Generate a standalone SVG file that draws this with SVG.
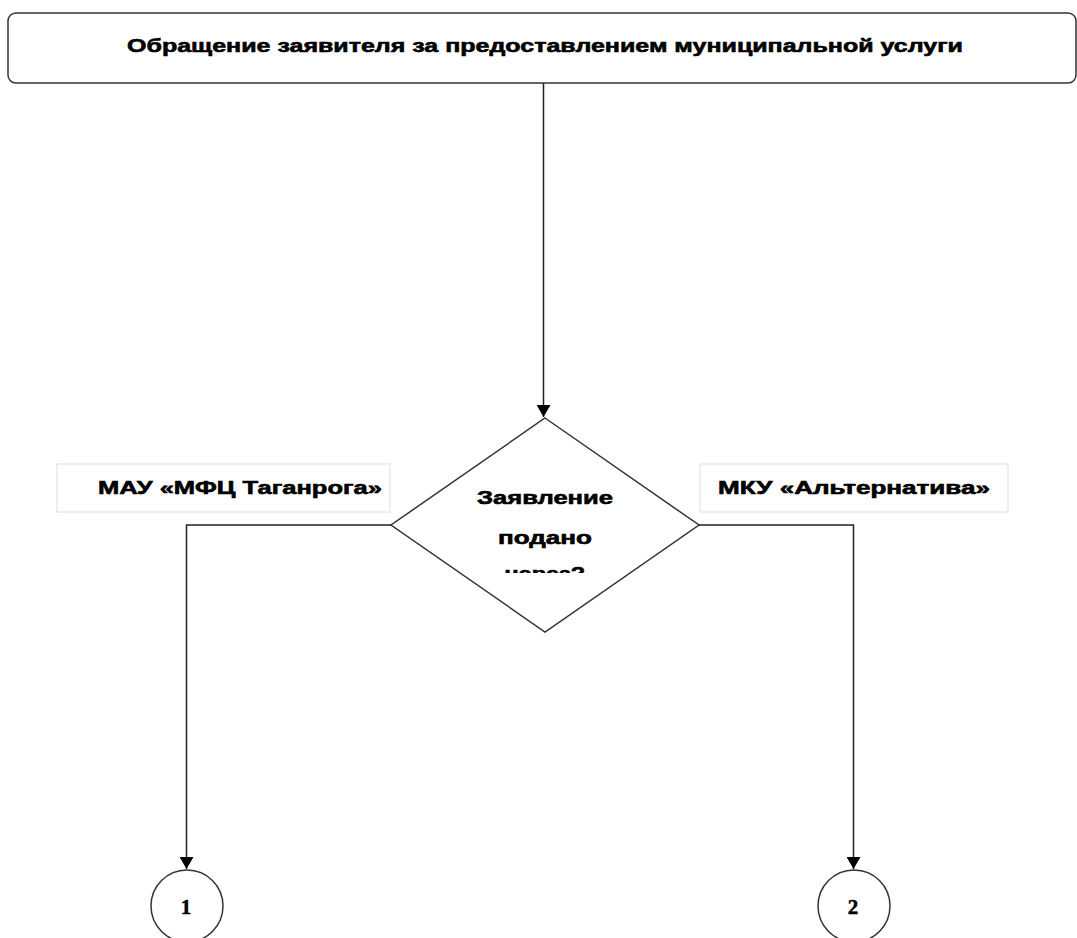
<svg xmlns="http://www.w3.org/2000/svg" width="1077" height="938" viewBox="0 0 1077 938">
<style>
.shape{fill:#fff;stroke:#333;stroke-width:1.5}
.lbl{fill:#fff;stroke:#ddd;stroke-width:1}
.edge{fill:none;stroke:#222;stroke-width:1.5}
.t{font-family:"Liberation Sans",Arial,sans-serif;font-weight:bold;fill:#000;stroke:#000;stroke-width:0.6;text-anchor:middle}
.num{font-family:"Liberation Serif","Times New Roman",serif;font-weight:bold;font-size:21px;fill:#000;stroke:#000;stroke-width:0.5;text-anchor:middle}
</style>
<defs>
<marker id="arr" viewBox="0 0 12 14" refX="12" refY="7" markerWidth="12" markerHeight="14" markerUnits="userSpaceOnUse" orient="auto">
<path d="M0,0 L12,7 L0,14 Z" fill="#000"/>
</marker>
<clipPath id="clipD" clipPathUnits="userSpaceOnUse"><rect x="440" y="560" width="210" height="13"/></clipPath>
</defs>
<rect width="1077" height="938" fill="#fff"/>
<g id="connectors">
<path class="edge" d="M543.5,83 V417" marker-end="url(#arr)"/>
<path class="edge" d="M391,525 H186.5 V869" marker-end="url(#arr)"/>
<path class="edge" d="M699,525 H853.5 V869" marker-end="url(#arr)"/>
</g>
<g id="start">
<rect class="shape" x="8" y="13" width="1068" height="70" rx="8"/>
<text class="t" x="545" y="52" font-size="19" textLength="836" lengthAdjust="spacingAndGlyphs">Обращение заявителя за предоставлением муниципальной услуги</text>
</g>
<g id="label-left">
<rect class="lbl" x="57" y="464" width="333" height="48"/>
<text class="t" x="240" y="494" font-size="18" textLength="284" lengthAdjust="spacingAndGlyphs">МАУ «МФЦ Таганрога»</text>
</g>
<g id="label-right">
<rect class="lbl" x="700" y="464" width="308" height="48"/>
<text class="t" x="854" y="494" font-size="18" textLength="272" lengthAdjust="spacingAndGlyphs">МКУ «Альтернатива»</text>
</g>
<g id="decision">
<polygon class="shape" points="545,418 699,525 545,632 391,525"/>
<text class="t" x="545" y="504" font-size="19" textLength="136" lengthAdjust="spacingAndGlyphs">Заявление</text>
<text class="t" x="545" y="544" font-size="19" textLength="94" lengthAdjust="spacingAndGlyphs">подано</text>
<g clip-path="url(#clipD)">
<text class="t" x="545" y="580" font-size="19" textLength="80" lengthAdjust="spacingAndGlyphs">через?</text>
</g>
</g>
<g id="conn1">
<circle class="shape" cx="187" cy="906" r="36"/>
<text class="num" x="186" y="914">1</text>
</g>
<g id="conn2">
<circle class="shape" cx="854" cy="906" r="36"/>
<text class="num" x="853" y="914">2</text>
</g>
</svg>
